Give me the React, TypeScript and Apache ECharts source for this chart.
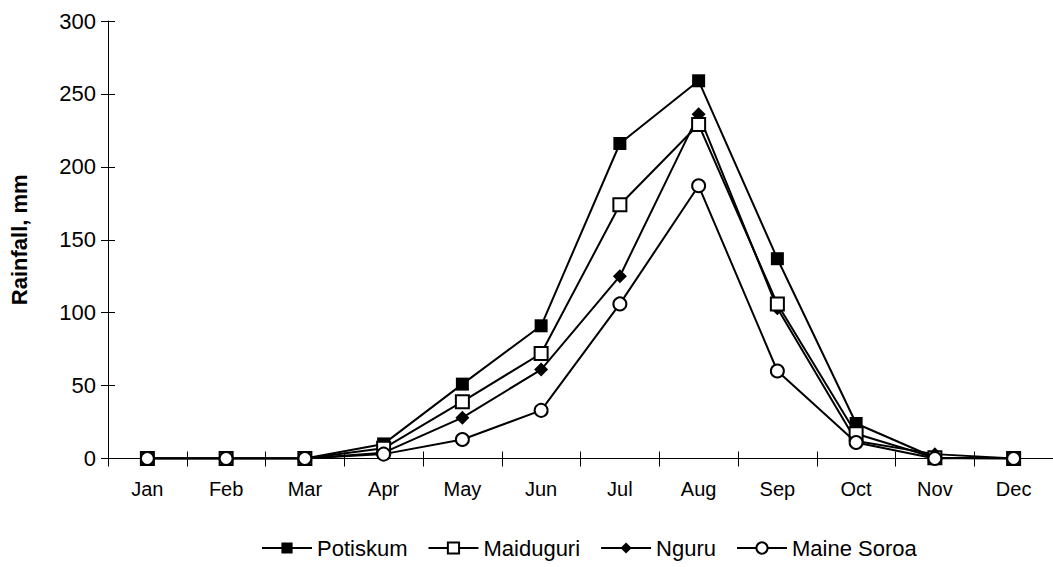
import React, { useEffect, useRef } from "react";
import * as echarts from "echarts";

const months = ["Jan", "Feb", "Mar", "Apr", "May", "Jun", "Jul", "Aug", "Sep", "Oct", "Nov", "Dec"];
const potiskum = [0, 0, 0, 10, 51, 91, 216, 259, 137, 24, 0.5, 0];
const maiduguri = [0, 0, 0, 7, 39, 72, 174, 229, 106, 17, 0.5, 0];
const nguru = [0, 0, 0, 4, 28, 61, 125, 236, 103, 12, 3, 0];
const maineSoroa = [0, 0, 0, 3, 13, 33, 106, 187, 60, 11, 0, 0];
const yTicks = { min: 0, max: 300, interval: 50 };

const FONT = "'Liberation Sans', Arial, sans-serif";

export default function App() {
  const ref = useRef<HTMLDivElement>(null);
  useEffect(() => {
    if (!ref.current) return;
    const chart = echarts.init(ref.current, null, { renderer: "svg" });
    const mk = (name: string, data: number[], symbol: string, fill: string, z: number) => ({
      name,
      type: "line",
      data,
      symbol,
      symbolSize: symbol === "diamond" ? 14 : 13,
      showAllSymbol: true,
      z,
      lineStyle: { color: "#000", width: 2 },
      itemStyle: { color: fill, borderColor: "#000", borderWidth: fill === "#fff" ? 2 : 0 },
      emphasis: { disabled: true },
    });
    chart.setOption({
      animation: false,
      backgroundColor: "#fff",
      textStyle: { fontFamily: FONT, color: "#000" },
      grid: { left: 106, top: 21, width: 950, height: 437.5, containLabel: false },
      legend: {
        left: 256,
        top: 532,
        itemWidth: 50,
        itemHeight: 14,
        itemGap: 20,
        textStyle: { fontSize: 22, color: "#000", fontFamily: FONT },
        data: ["Potiskum", "Maiduguri", "Nguru", "Maine Soroa"],
      },
      xAxis: [
        {
          type: "category",
          data: months,
          boundaryGap: true,
          axisLine: { lineStyle: { color: "#000", width: 1 } },
          axisTick: { show: true, length: 8, lineStyle: { color: "#000" } },
          axisLabel: { fontSize: 20, color: "#000", margin: 20, fontFamily: FONT },
        },
        {
          type: "category",
          data: months,
          boundaryGap: true,
          position: "bottom",
          axisLine: { show: false },
          axisTick: { show: true, inside: true, length: 7, lineStyle: { color: "#000" } },
          axisLabel: { show: false },
        },
      ],
      yAxis: [
        {
          type: "value",
          min: yTicks.min,
          max: yTicks.max,
          interval: yTicks.interval,
          name: "Rainfall, mm",
          nameLocation: "middle",
          nameGap: 78,
          nameTextStyle: { fontSize: 22, fontWeight: "bold", color: "#000", fontFamily: FONT },
          axisLine: { show: true, lineStyle: { color: "#000", width: 1 } },
          axisTick: { show: true, length: 7, lineStyle: { color: "#000" } },
          axisLabel: { fontSize: 22, color: "#000", margin: 12, fontFamily: FONT },
          splitLine: { show: false },
        },
        {
          type: "value",
          min: yTicks.min,
          max: yTicks.max,
          interval: yTicks.interval,
          position: "left",
          axisLine: { show: false },
          axisTick: { show: true, inside: true, length: 7, lineStyle: { color: "#000" } },
          axisLabel: { show: false },
          splitLine: { show: false },
        },
      ],
      series: [
        mk("Potiskum", potiskum, "rect", "#000", 2),
        mk("Nguru", nguru, "diamond", "#000", 3),
        mk("Maiduguri", maiduguri, "rect", "#fff", 4),
        mk("Maine Soroa", maineSoroa, "circle", "#fff", 5),
      ],
    });
    return () => chart.dispose();
  }, []);
  return <div ref={ref} style={{ position: "absolute", left: 0, top: 0, width: 1053, height: 567 }} />;
}
